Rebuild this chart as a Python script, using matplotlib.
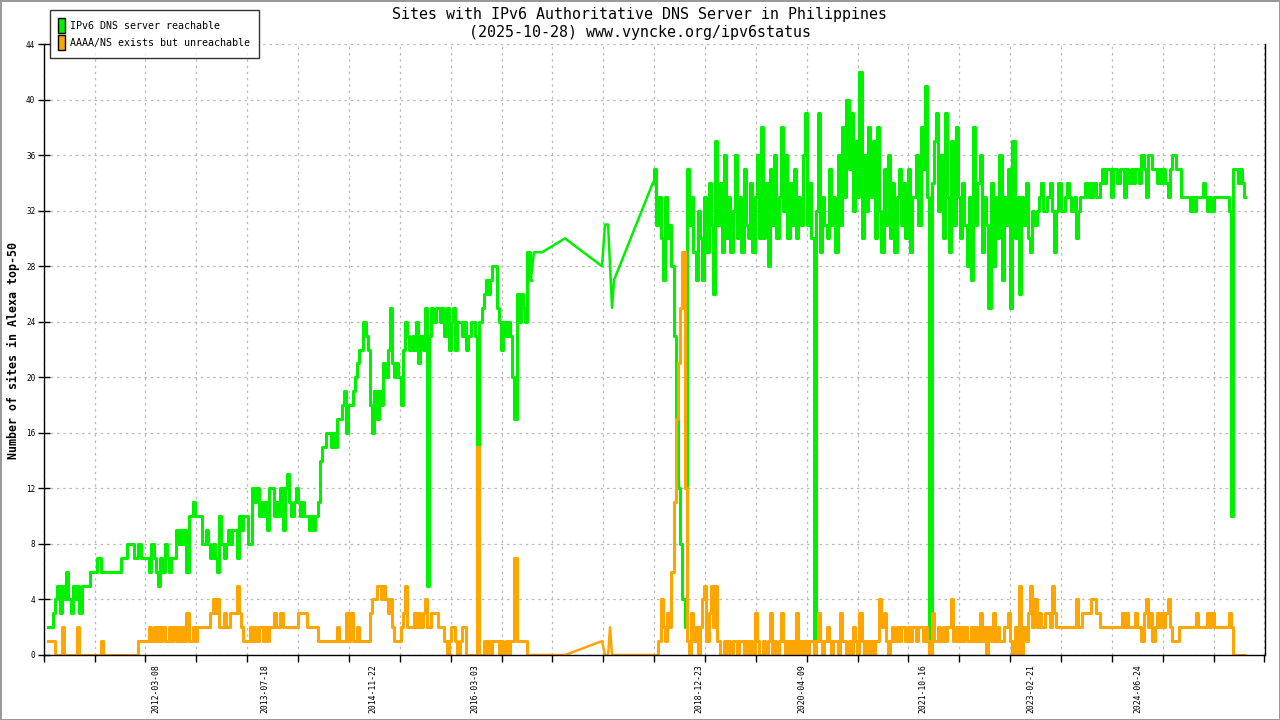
import numpy as np
import pandas as pd
import matplotlib
matplotlib.use('Agg')
import matplotlib.pyplot as plt
import matplotlib.dates as mdates
from matplotlib.patches import Patch

plt.rcParams['font.family'] = ['DejaVu Sans Mono', 'DejaVu Sans']

# first period: one reading every 10 days from 2010-10-28
early_start = '2010-10-28'
early_ok = [2, 2, 2, 3, 4, 5, 3, 5, 4, 6,
            4, 3, 5, 4, 5, 3, 5, 5, 5, 5,
            6, 6, 6, 7, 7, 6, 6, 6, 6, 6,
            6, 6, 6, 6, 7, 7, 7, 8, 8, 8,
            7, 7, 8, 7, 7, 7, 7, 6, 8, 7,
            6, 5, 7, 6, 8, 7, 6, 7, 7, 9,
            8, 9, 8, 9, 6, 10, 10, 11, 10, 10,
            10, 8, 8, 9, 8, 7, 8, 7, 6, 10,
            8, 7, 8, 9, 8, 9, 9, 7, 10, 9,
            10, 10, 8, 8, 12, 11, 12, 10, 11, 10,
            11, 9, 12, 12, 10, 11, 10, 12, 9, 12,
            13, 11, 10, 11, 12, 11, 10, 11, 10, 10,
            9, 10, 9, 10, 11, 14, 15, 15, 16, 16,
            15, 16, 15, 17, 17, 18, 19, 16, 18, 18,
            19, 20, 21, 22, 22, 24, 23, 22, 18, 16,
            19, 17, 19, 18, 21, 20, 22, 25, 21, 20,
            21, 20, 18, 22, 24, 23, 22, 23, 22, 24,
            21, 23, 22, 25, 5, 23, 25, 24, 25, 25,
            24, 25, 23, 25, 22, 24, 25, 22, 24, 24,
            23, 24, 22, 23, 24, 24, 23, 8, 24, 25,
            26, 27, 26, 27, 28, 28, 25, 24, 22, 24,
            23, 24, 23, 20, 17, 26, 24, 26, 25, 24,
            29, 27]
early_bad = [1, 1, 1, 1, 0, 0, 0, 2, 0, 0,
             0, 0, 0, 0, 2, 0, 0, 0, 0, 0,
             0, 0, 0, 0, 0, 1, 0, 0, 0, 0,
             0, 0, 0, 0, 0, 0, 0, 0, 0, 0,
             0, 0, 1, 1, 1, 1, 1, 2, 1, 2,
             1, 2, 1, 2, 1, 1, 2, 1, 2, 1,
             2, 1, 2, 1, 3, 1, 1, 2, 1, 2,
             2, 2, 2, 2, 2, 3, 4, 3, 4, 2,
             2, 3, 2, 2, 3, 3, 3, 5, 3, 2,
             1, 1, 1, 2, 1, 2, 1, 2, 2, 1,
             2, 1, 2, 2, 3, 2, 2, 3, 2, 2,
             2, 2, 2, 2, 2, 3, 3, 3, 3, 2,
             2, 2, 2, 2, 1, 1, 1, 1, 1, 1,
             1, 1, 1, 2, 1, 1, 1, 3, 1, 3,
             1, 1, 2, 1, 1, 1, 1, 1, 3, 4,
             4, 5, 5, 4, 5, 4, 3, 4, 2, 1,
             1, 1, 2, 3, 5, 2, 2, 2, 3, 2,
             3, 2, 3, 4, 2, 2, 3, 3, 3, 2,
             2, 2, 1, 0, 1, 2, 2, 1, 0, 1,
             2, 2, 0, 0, 0, 0, 0, 15, 0, 0,
             1, 0, 1, 0, 1, 1, 1, 0, 1, 0,
             1, 0, 1, 1, 7, 1, 1, 1, 1, 1,
             0, 0]

# few readings in 2016-2017
gap_dates = ['2016-11-30', '2017-01-06', '2017-04-21', '2017-10-07', '2017-10-21',
             '2017-11-04', '2017-11-13', '2017-11-22', '2017-12-01']
gap_ok = [29, 29, 30, 28, 31, 31, 28, 25, 27]
gap_bad = [0, 0, 0, 1, 0, 0, 2, 0, 0]

# second period: one reading every 10 days from 2018-05-28
late_start = '2018-05-28'
late_ok = [34, 35, 31, 33, 30, 27, 33, 30, 31, 28,
           23, 17, 12, 8, 4, 2, 35, 31, 33, 29,
           27, 32, 30, 27, 33, 29, 34, 31, 26, 37,
           31, 34, 29, 36, 30, 33, 29, 32, 36, 30,
           33, 29, 35, 31, 30, 34, 29, 33, 36, 30,
           38, 30, 34, 28, 35, 31, 36, 30, 33, 38,
           32, 36, 30, 34, 31, 35, 30, 33, 31, 36,
           39, 31, 34, 30, 0, 32, 39, 29, 33, 31,
           30, 35, 31, 33, 29, 36, 31, 38, 33, 40,
           35, 39, 32, 37, 33, 42, 30, 36, 32, 38,
           33, 37, 30, 38, 32, 29, 35, 31, 36, 30,
           34, 29, 33, 35, 31, 34, 30, 35, 29, 33,
           33, 36, 31, 38, 35, 41, 33, 0, 34, 37,
           39, 32, 36, 30, 39, 33, 29, 37, 31, 38,
           33, 30, 34, 31, 28, 33, 27, 38, 31, 34,
           36, 29, 33, 31, 25, 34, 28, 33, 30, 36,
           27, 33, 31, 35, 25, 37, 30, 33, 26, 33,
           31, 34, 30, 29, 32, 31, 32, 33, 34, 32,
           32, 33, 34, 32, 29, 32, 34, 32, 32, 33,
           34, 33, 32, 33, 30, 32, 33, 33, 34, 33,
           34, 33, 34, 33, 33, 34, 35, 34, 35, 35,
           33, 35, 35, 34, 35, 35, 33, 35, 34, 35,
           34, 35, 35, 34, 36, 35, 33, 36, 36, 35,
           35, 34, 35, 34, 35, 34, 33, 35, 36, 36,
           35, 35, 33, 33, 33, 33, 32, 33, 32, 33,
           33, 33, 34, 33, 32, 33, 32, 33, 33, 33,
           33, 33, 33, 33, 32, 10, 35, 35, 34, 35,
           34, 33]
late_bad = [0, 0, 0, 1, 4, 2, 1, 3, 2, 6,
            11, 17, 21, 25, 29, 12, 1, 0, 3, 1,
            2, 0, 2, 4, 5, 1, 3, 5, 2, 5,
            1, 0, 0, 1, 0, 1, 0, 1, 1, 0,
            1, 1, 0, 1, 0, 1, 0, 3, 1, 0,
            0, 1, 0, 1, 3, 0, 1, 0, 1, 3,
            1, 0, 1, 0, 1, 0, 3, 0, 1, 0,
            1, 0, 1, 1, 0, 1, 3, 1, 0, 1,
            2, 1, 0, 1, 1, 0, 3, 1, 1, 0,
            1, 0, 2, 1, 0, 3, 1, 0, 1, 0,
            1, 0, 1, 1, 4, 2, 3, 1, 0, 1,
            2, 1, 2, 1, 2, 2, 1, 2, 1, 2,
            2, 1, 2, 2, 1, 2, 1, 0, 3, 1,
            1, 2, 1, 2, 1, 2, 2, 4, 1, 2,
            1, 2, 1, 2, 1, 1, 2, 1, 2, 1,
            3, 1, 2, 0, 2, 1, 3, 1, 2, 1,
            1, 2, 2, 3, 1, 0, 2, 0, 5, 0,
            2, 1, 3, 5, 2, 4, 2, 3, 2, 2,
            3, 3, 2, 5, 3, 2, 2, 2, 2, 2,
            2, 2, 2, 2, 4, 2, 2, 3, 3, 3,
            3, 4, 4, 3, 3, 2, 2, 2, 2, 2,
            2, 2, 2, 2, 2, 3, 2, 3, 2, 2,
            2, 3, 2, 2, 1, 3, 4, 2, 3, 1,
            2, 3, 2, 3, 2, 3, 4, 2, 1, 1,
            1, 2, 2, 2, 2, 2, 2, 2, 2, 3,
            2, 2, 2, 2, 3, 2, 3, 2, 2, 2,
            2, 2, 2, 2, 3, 2, 0, 0, 0, 0,
            0, 0]

tick_dates = ['2012-03-08', '2013-07-18', '2014-11-22', '2016-03-03', '2018-12-23',
              '2020-04-09', '2021-10-16', '2023-02-21', '2024-06-24']

green = '#00f000'
orange = '#ffa500'

fig = plt.figure(figsize=(12.8, 7.2), dpi=100)
fig.patch.set_edgecolor('#999999')
fig.patch.set_linewidth(2)
ax = fig.add_axes([43.7/1280, 65/720, 1220.8/1280, 611/720])

def draw(vals_early, vals_gap, vals_late, col):
    ex = pd.date_range(early_start, periods=len(vals_early), freq='10D')
    lx = pd.date_range(late_start, periods=len(vals_late), freq='10D')
    gx = [ex[-1]] + list(pd.to_datetime(gap_dates)) + [lx[0]]
    gy = [vals_early[-1]] + vals_gap + [vals_late[0]]
    ax.plot(ex, vals_early, color=col, lw=2.2, drawstyle='steps-mid')
    ax.plot(gx, gy, color=col, lw=1.8)
    ax.plot(lx, vals_late, color=col, lw=2.2, drawstyle='steps-mid')

draw(early_ok, gap_ok, late_ok, green)
draw(early_bad, gap_bad, late_bad, orange)

left = pd.Timestamp('2010-10-10')
right = pd.Timestamp('2026-01-24')
ax.set_xlim(left, right)
ax.set_ylim(0, 44)

minor = np.linspace(mdates.date2num(left), mdates.date2num(right), 25)
ax.set_xticks(minor, minor=True)
ax.set_xticks(mdates.date2num(pd.to_datetime(tick_dates)))
ax.set_xticklabels(tick_dates, rotation=90, fontsize=5.9)
ax.set_yticks(range(0, 45, 4))
ax.tick_params(axis='y', direction='inout', length=8, width=1, labelsize=5.5, pad=2)
ax.tick_params(axis='x', which='major', length=0, pad=7)
ax.tick_params(axis='x', which='minor', direction='out', length=5, width=1)

ax.grid(True, which='minor', axis='x', color='#bbbbbb', ls=(0, (2, 3)), lw=0.9)
ax.grid(True, which='major', axis='y', color='#bbbbbb', ls=(0, (2, 3)), lw=0.9)
ax.grid(False, which='major', axis='x')
ax.set_axisbelow(True)

ax.spines['top'].set_visible(False)
for s in ['left', 'right', 'bottom']:
    ax.spines[s].set_linewidth(1)

fig.text(0.5, 1 - 7/720, 'Sites with IPv6 Authoritative DNS Server in Philippines\n(2025-10-28) www.vyncke.org/ipv6status',
         ha='center', va='top', fontsize=10.8, linespacing=1.28)
fig.text(13/1280, 1 - 350/720, 'Number of sites in Alexa top-50', rotation=90,
         ha='center', va='center', fontsize=8.4, fontweight='bold')

handles = [Patch(facecolor=green, edgecolor='black', lw=1),
           Patch(facecolor=orange, edgecolor='black', lw=1)]
leg = fig.legend(handles, ['IPv6 DNS server reachable', 'AAAA/NS exists but unreachable'],
                 loc='upper left', bbox_to_anchor=(50/1280, 1 - 10/720), fancybox=False,
                 edgecolor='black', fontsize=7.2, handlelength=0.65, handleheight=2.0,
                 handletextpad=0.6, labelspacing=0.12, borderpad=0.8, borderaxespad=0)
leg.get_frame().set_linewidth(1)

fig.savefig('out.png', dpi=100)
